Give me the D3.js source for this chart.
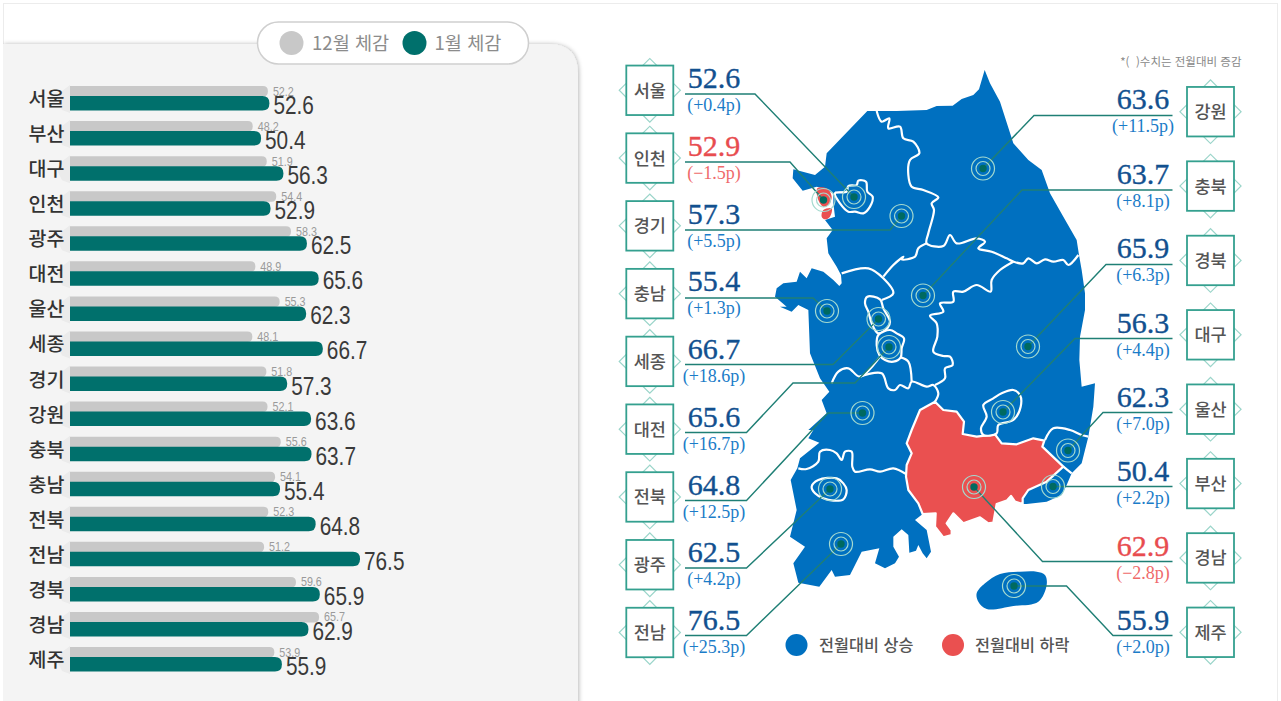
<!DOCTYPE html>
<html lang="ko">
<head>
<meta charset="utf-8">
<title>12월 1월 체감</title>
<script src="https://cdn.jsdelivr.net/npm/d3@7"></script>
<style>
    html, body { margin: 0; padding: 0; background: #fff; overflow: hidden; }
    svg { display: block; }
    .kr { font-family: "Noto Sans CJK KR", "Noto Sans", sans-serif; }
    .num { font-family: "Liberation Sans", Arial, sans-serif; }
    .serif { font-family: "Liberation Serif", serif; }
</style>
</head>
<body>
<div id="chart"></div>
<script>
// Bar chart data
const barRegions = ['서울', '부산', '대구', '인천', '광주', '대전', '울산', '세종', '경기', '강원', '충북', '충남', '전북', '전남', '경북', '경남', '제주'];
const decValues = [52.2, 48.2, 51.9, 54.4, 58.3, 48.9, 55.3, 48.1, 51.8, 52.1, 55.6, 54.1, 52.3, 51.2, 59.6, 65.7, 53.9];
const janValues = [52.6, 50.4, 56.3, 52.9, 62.5, 65.6, 62.3, 66.7, 57.3, 63.6, 63.7, 55.4, 64.8, 76.5, 65.9, 62.9, 55.9];

// Map callouts, left and right columns
const leftRegions = ['서울', '인천', '경기', '충남', '세종', '대전', '전북', '광주', '전남'];
const leftValues = [52.6, 52.9, 57.3, 55.4, 66.7, 65.6, 64.8, 62.5, 76.5];
const leftDeltas = [0.4, -1.5, 5.5, 1.3, 18.6, 16.7, 12.5, 4.2, 25.3];
const rightRegions = ['강원', '충북', '경북', '대구', '울산', '부산', '경남', '제주'];
const rightValues = [63.6, 63.7, 65.9, 56.3, 62.3, 50.4, 62.9, 55.9];
const rightDeltas = [11.5, 8.1, 6.3, 4.4, 7.0, 2.2, -2.8, 2.0];

const width = 1281;
const height = 701;
const teal = '#00706c';
const blue = '#0070c0';
const red = '#ea5050';

const svg = d3.select('#chart').append('svg')
    .attr('width', width)
    .attr('height', height);

const defs = svg.append('defs');
const shadow = defs.append('filter').attr('id', 'panel-shadow')
    .attr('x', '-5%').attr('y', '-5%').attr('width', '110%').attr('height', '110%');
shadow.append('feDropShadow')
    .attr('dx', 1).attr('dy', 0).attr('stdDeviation', 2.2)
    .attr('flood-color', '#000').attr('flood-opacity', 0.28);

// Outer frame and grey panel
svg.append('rect')
    .attr('x', 3.5).attr('y', 3.5)
    .attr('width', 1274).attr('height', 720)
    .attr('fill', '#fff').attr('stroke', '#ececec');

svg.append('path')
    .attr('d', 'M3,44 H549 Q578,44 578,74 V720 H3 Z')
    .attr('fill', '#f4f4f4')
    .attr('filter', 'url(#panel-shadow)');
svg.append('rect').attr('x', 0).attr('y', 0).attr('width', 3).attr('height', height).attr('fill', '#fff');

// Legend pill
svg.append('rect')
    .attr('x', 257.5).attr('y', 22)
    .attr('width', 271).attr('height', 42).attr('rx', 21)
    .attr('fill', '#fff').attr('stroke', '#cfcfcf').attr('stroke-width', 1.5);

const pillItems = [
    { label: '12월 체감', color: '#c8c8c8', cx: 291.5, tx: 312 },
    { label: '1월 체감', color: teal, cx: 414.5, tx: 434.5 }
];
pillItems.forEach(d => {
    svg.append('circle').attr('cx', d.cx).attr('cy', 43).attr('r', 12).attr('fill', d.color);
    svg.append('text').attr('class', 'kr')
        .attr('x', d.tx).attr('y', 49.5)
        .attr('font-size', 18.6).attr('fill', '#8c8c8c')
        .text(d.label);
});

// Bars
const x = d3.scaleLinear().domain([0, 76.5]).range([70, 360]);
const rowY = d3.scalePoint().domain(barRegions).range([86, 647]);

function rightRound(x0, x1, y, h, r) {
    return `M${x0},${y} H${x1 - r} Q${x1},${y} ${x1},${y + r} V${y + h - r} Q${x1},${y + h} ${x1 - r},${y + h} H${x0} Z`;
}

const rows = svg.append('g').selectAll('g')
    .data(barRegions)
    .join('g')
    .attr('transform', d => `translate(0,${rowY(d)})`);

rows.append('path')
    .attr('d', 'M70,-1 L62,5 L57,14 L62,24 L70,27 Z')
    .attr('fill', '#ebebeb');

rows.append('path')
    .attr('d', (d, i) => rightRound(x(0), x(decValues[i]), 0, 10.5, 5))
    .attr('fill', '#c8c8c8');

rows.append('path')
    .attr('d', (d, i) => rightRound(x(0), x(janValues[i]), 10, 14.5, 7))
    .attr('fill', teal);

rows.append('text').attr('class', 'kr')
    .attr('x', 64.5).attr('y', 20)
    .attr('text-anchor', 'end')
    .attr('font-size', 19.5).attr('font-weight', 500).attr('fill', '#333')
    .text(d => d);

rows.append('text').attr('class', 'num')
    .attr('transform', (d, i) => `translate(${x(decValues[i]) + 5},9.5) scale(0.86,1)`)
    .attr('font-size', 12.5).attr('fill', '#9a9a9a')
    .text((d, i) => decValues[i].toFixed(1));

rows.append('text').attr('class', 'num')
    .attr('transform', (d, i) => `translate(${x(janValues[i]) + 4},28) scale(0.8,1)`)
    .attr('font-size', 26).attr('fill', '#3a3a3a')
    .text((d, i) => janValues[i].toFixed(1));

const crop = (ox, oy, pts) => pts.map(([px, py]) => [ox + px / 3, oy + py / 3]);

const mainland = [
    ...crop(780, 60, [[262,153],[350,153],[440,150],[470,138],[518,137],[545,117],[580,105],[597,88],[614,30],[630,70],[660,125],[700,250],[745,300],[785,330],[810,400],[850,470],[890,540],[897,585]]),
    ...crop(780, 250, [[905,60],[915,130],[915,180],[900,260],[898,330],[905,410],[945,400],[940,470],[925,560]]),
    ...crop(780, 430, [[905,100],[875,130],[860,165],[845,195],[800,215],[740,222],[728,222],[705,215],[693,198],[680,212],[650,222],[640,278],[625,280],[600,262],[550,280],[520,250],[500,280],[515,300],[515,315],[490,322],[465,290],[467,250],[428,252],[405,270],[440,300],[453,365],[440,385],[428,370],[415,345],[408,362],[388,368],[385,315],[365,298],[340,320],[340,350],[357,380],[345,400],[315,415],[285,400],[298,355],[245,365],[210,435],[165,440],[155,420],[118,470],[55,458],[40,400],[75,350],[30,320],[50,240],[32,150],[52,115],[60,85],[118,38],[85,25],[100,0]]),
    ...crop(780, 250, [[85,540],[140,490],[125,450],[148,425],[120,385],[90,310],[85,180],[55,165],[35,185],[0,170]]),
    ...crop(610, 50, [[530,770],[495,740],[500,715],[520,700],[560,695],[570,665],[590,685],[605,655],[640,665],[670,690],[688,708],[695,700],[693,675],[680,650],[655,610],[650,565],[668,540]]),
    ...crop(780, 60, [[135,480],[165,470],[160,430],[160,400],[130,385],[110,380],[68,392],[38,355],[40,328],[105,345],[135,320],[140,280]])
];

const jeju = crop(780, 430, [[590,490],[615,460],[660,432],[720,425],[770,425],[795,435],[800,465],[775,515],[700,528],[620,537],[595,515]]);

const gyeongnam = [
    ...crop(780, 250, [[465,455],[490,480],[530,485],[552,515],[548,552],[590,560],[645,553],[665,580],[710,583],[760,565],[793,572]]),
    ...crop(780, 430, [[787,50],[850,110],[800,155],[745,180],[728,205],[728,222],[705,215],[693,198],[680,212],[650,222],[640,278],[625,280],[600,262],[550,280],[520,250],[500,280],[515,300],[515,315],[490,322],[465,290],[467,250],[428,252],[415,220],[385,180],[378,140],[380,105],[395,70],[380,40],[395,0]]),
    ...crop(780, 250, [[420,480]])
];

const incheonPatches = [
    crop(790, 160, [[82,85],[110,85],[125,110],[115,135],[100,140],[85,120]]),
    crop(790, 160, [[100,150],[125,145],[120,170],[105,178],[95,170]])
];

// closed city outlines
const cityOutlines = [
    crop(780, 60, [[200,395],[205,378],[230,375],[235,362],[258,365],[262,395],[278,410],[270,440],[250,460],[225,455],[205,455],[180,430],[165,400]]),
    crop(780, 250, [[262,140],[300,148],[310,175],[330,215],[322,235],[295,250],[275,220],[265,185],[255,160]]),
    crop(780, 250, [[295,255],[330,240],[350,250],[372,265],[365,295],[362,322],[340,335],[315,330],[298,315],[290,285]]),
    crop(780, 250, [[610,465],[640,445],[665,430],[700,420],[720,435],[722,470],[700,510],[655,525],[650,550],[610,555],[603,535],[620,500]]),
    crop(780, 430, [[95,170],[115,150],[170,145],[190,160],[200,180],[190,208],[160,212],[130,205],[105,190]])
];

// province borders
const borders = [
    crop(780, 60, [[290,153],[305,185],[328,175],[325,205],[360,200],[370,235],[400,245],[418,280],[390,300],[385,345],[395,380],[430,390],[475,412],[455,430],[462,450],[445,520],[440,550],[490,558],[510,525],[530,550],[590,535],[615,545],[595,565],[635,575],[680,595]]).concat(
        crop(780, 250, [[700,35],[730,40],[745,25],[770,40],[795,28],[820,35],[850,30],[865,45],[895,15]])),
    crop(780, 60, [[440,550],[415,565],[405,590],[365,598]]).concat(crop(780, 250, [[370,20],[340,45],[310,80]])),
    crop(780, 250, [[185,70],[265,55],[310,85],[340,130],[305,150]]),
    crop(780, 250, [[300,320],[240,380],[205,355],[175,365],[155,400]]),
    crop(780, 250, [[240,380],[305,370],[325,415],[345,420],[360,405],[385,415],[395,395],[440,410],[460,405],[475,430],[465,455]]),
    crop(780, 250, [[362,322],[385,335],[395,395]]),
    crop(780, 250, [[700,35],[660,60],[635,90],[632,125],[590,105],[550,125],[520,125],[520,155],[480,160],[490,185],[450,197],[470,220],[472,260],[460,305],[490,318],[510,320],[518,345],[495,355],[495,385],[465,405]]),
    crop(780, 250, [[795,570],[820,535],[870,540],[905,555],[925,560]]),
    crop(780, 430, [[850,110],[875,130]]),
    crop(780, 430, [[55,115],[80,117],[115,95],[120,65],[150,60],[170,70],[185,90],[195,65],[215,65],[217,110],[225,125],[270,118],[300,125],[340,115],[378,132]]),
    crop(780, 60, [[165,398],[200,398]])
];

const smooth = d3.line().curve(d3.curveCatmullRom.alpha(0.5));
const smoothClosed = d3.line().curve(d3.curveCatmullRomClosed.alpha(0.5));
const straight = d3.line();
const angular = d3.line().curve(d3.curveLinearClosed);

const map = svg.append('g');

map.selectAll('.land')
    .data([mainland, jeju])
    .join('path')
    .attr('class', 'land')
    .attr('d', (d, i) => i === 0 ? angular(d) : smoothClosed(d))
    .attr('fill', blue);

map.append('path')
    .attr('d', angular(gyeongnam))
    .attr('fill', red).attr('stroke', '#fff').attr('stroke-width', 2.2).attr('stroke-linejoin', 'round');

map.selectAll('.border')
    .data(borders)
    .join('path')
    .attr('class', 'border')
    .attr('d', smooth)
    .attr('fill', 'none').attr('stroke', '#fff').attr('stroke-width', 2.2);

map.selectAll('.city')
    .data(cityOutlines)
    .join('path')
    .attr('class', 'city')
    .attr('d', smoothClosed)
    .attr('fill', blue).attr('stroke', '#fff').attr('stroke-width', 2.2);

map.selectAll('.incheon')
    .data(incheonPatches)
    .join('path')
    .attr('class', 'incheon')
    .attr('d', smoothClosed)
    .attr('fill', red);

// Leader lines run from the callout rule to the marker
const leaders = {
    '서울': [[685,94],[755,94],[854,197]],
    '인천': [[685,162],[790,162],[823.5,200]],
    '경기': [[685,230],[890,230],[901.5,216]],
    '충남': [[685,298],[813,298],[827,311]],
    '세종': [[685,364.5],[833,364.5],[878.5,319]],
    '대전': [[685,432.5],[746.5,432.5],[793,383],[855,383],[889,347]],
    '전북': [[685,500.5],[746.5,500.5],[828,413],[862.5,413]],
    '광주': [[685,568],[746.5,568],[830,489]],
    '전남': [[685,635.5],[746.5,635.5],[841,544]],
    '강원': [[1172.5,115.5],[1034,115.5],[983,168.5]],
    '충북': [[1172.5,190],[1022,190],[923,295.5]],
    '경북': [[1172.5,264.5],[1106,264.5],[1028,346.5]],
    '대구': [[1172.5,338.5],[1075,338.5],[1003,412]],
    '울산': [[1172.5,412.5],[1103,412.5],[1068,450.5]],
    '부산': [[1172.5,486.5],[1053,486.5]],
    '경남': [[1172.5,561.5],[1042.5,561.5],[974,487]],
    '제주': [[1172.5,635.5],[1113,635.5],[1066.5,586],[1014,586]]
};

const allRegions = [...leftRegions, ...rightRegions];

svg.append('g').selectAll('path')
    .data(allRegions)
    .join('path')
    .attr('d', d => straight(leaders[d]))
    .attr('fill', 'none').attr('stroke', '#1f7f75').attr('stroke-width', 1.4);

const markers = svg.append('g').selectAll('g')
    .data(allRegions)
    .join('g')
    .attr('transform', d => {
        const last = leaders[d][leaders[d].length - 1];
        return `translate(${last[0]},${last[1]})`;
    });
[11.5, 7].forEach(r => {
    markers.append('circle').attr('r', r)
        .attr('fill', 'none').attr('stroke', '#a4dacf').attr('stroke-width', 1.2);
});
markers.append('circle').attr('r', 3.7).attr('fill', '#006a60');

// Callout columns
const leftY = d3.scalePoint().domain(leftRegions).range([90.3, 632.5]);
const rightY = d3.scalePoint().domain(rightRegions).range([111.7, 632.3]);

function drawColumn(names, values, deltas, yScale, boxX, textX, lineOffset) {
    const boxW = 47;
    const boxH = 49.5;
    const col = svg.append('g').selectAll('g')
        .data(names)
        .join('g')
        .attr('transform', d => `translate(${boxX},${yScale(d)})`);

    // little diamonds poking out of each box edge
    [[boxW / 2, -boxH / 2], [boxW / 2, boxH / 2], [0, 0], [boxW, 0]].forEach(([dx, dy]) => {
        col.append('rect')
            .attr('x', -5).attr('y', -5).attr('width', 10).attr('height', 10)
            .attr('transform', `translate(${dx},${dy}) rotate(45)`)
            .attr('fill', '#fff').attr('stroke', '#9bd5ca').attr('stroke-width', 1.2);
    });

    col.append('rect')
        .attr('x', 0).attr('y', -boxH / 2)
        .attr('width', boxW).attr('height', boxH)
        .attr('fill', '#fff').attr('stroke', '#34a08f').attr('stroke-width', 1.8);

    col.append('text').attr('class', 'kr')
        .attr('x', boxW / 2).attr('y', 6.5)
        .attr('text-anchor', 'middle')
        .attr('font-size', 17.5).attr('font-weight', 500).attr('fill', '#555')
        .text(d => d);

    const labels = svg.append('g').selectAll('g')
        .data(names)
        .join('g')
        .attr('transform', d => `translate(${textX},${yScale(d) + lineOffset})`);

    labels.append('text').attr('class', 'serif')
        .attr('y', -6)
        .attr('text-anchor', 'middle')
        .attr('font-size', 30)
        .attr('fill', (d, i) => deltas[i] < 0 ? '#e84c4f' : '#12508f')
        .attr('stroke', (d, i) => deltas[i] < 0 ? '#e84c4f' : '#12508f')
        .attr('stroke-width', 0.35)
        .text((d, i) => values[i].toFixed(1));

    labels.append('text').attr('class', 'serif')
        .attr('y', 17)
        .attr('text-anchor', 'middle')
        .attr('font-size', 18)
        .attr('fill', (d, i) => deltas[i] < 0 ? '#ef6a6a' : '#1b7cc8')
        .text((d, i) => `(${deltas[i] < 0 ? '\u2212' : '+'}${Math.abs(deltas[i]).toFixed(1)}p)`);
}

// the rule under the value sits 3.7px below the box centre on either side
drawColumn(leftRegions, leftValues, leftDeltas, leftY, 626.3, 714, 3.7);
drawColumn(rightRegions, rightValues, rightDeltas, rightY, 1187, 1143, 3.7);

// Note and map legend
svg.append('text').attr('class', 'kr')
    .attr('x', 1241.5).attr('y', 65.5)
    .attr('text-anchor', 'end')
    .attr('font-size', 11.5).attr('fill', '#888')
    .text('*(\u00a0\u00a0)수치는 전월대비 증감');

const mapLegend = [
    { label: '전월대비 상승', color: blue, cx: 796.5, tx: 819 },
    { label: '전월대비 하락', color: red, cx: 953, tx: 975 }
];
mapLegend.forEach(d => {
    svg.append('circle').attr('cx', d.cx).attr('cy', 645).attr('r', 11).attr('fill', d.color);
    svg.append('text').attr('class', 'kr')
        .attr('x', d.tx).attr('y', 650.5)
        .attr('font-size', 16.3).attr('font-weight', 500).attr('fill', '#555')
        .text(d.label);
});
</script>
</body>
</html>
